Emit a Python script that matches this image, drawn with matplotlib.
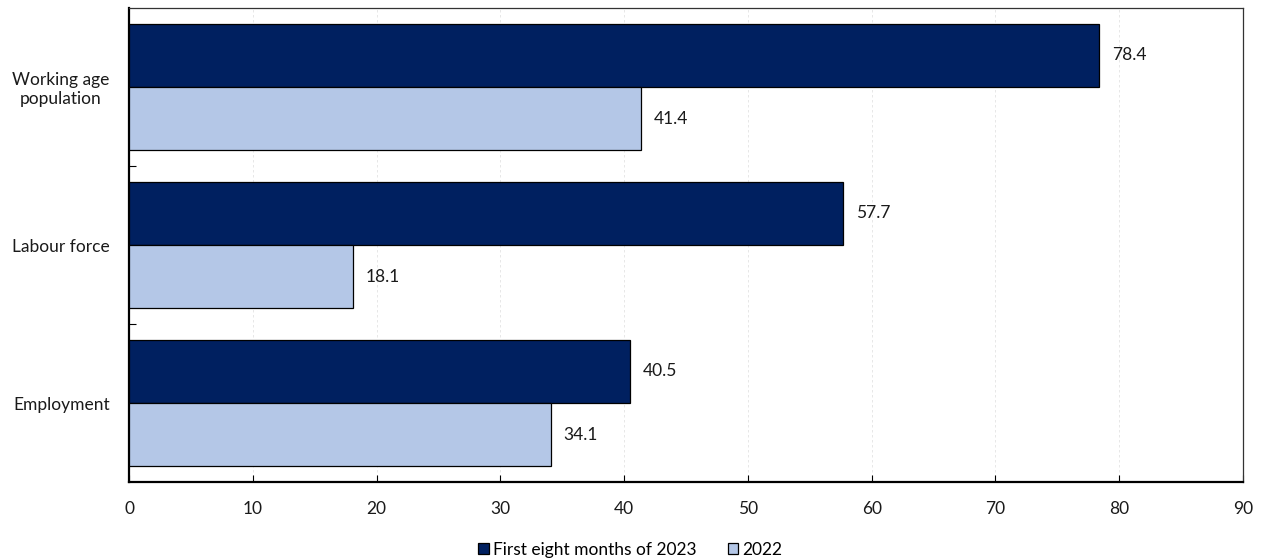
import matplotlib
matplotlib.use("Agg")
import matplotlib.pyplot as plt
import numpy as np
from matplotlib.ticker import MultipleLocator, FixedLocator

plt.rcParams['font.family'] = ['Lato', 'DejaVu Sans']

categories = ["Working age\npopulation", "Labour force", "Employment"]
series_names = ["First eight months of 2023", "2022"]
vals_2023 = [78.4, 57.7, 40.5]
vals_2022 = [41.4, 18.1, 34.1]
colors = ["#002060", "#B4C7E7"]

fig = plt.figure(figsize=(12.61, 5.59), dpi=100)
ax = fig.add_axes([0.1023, 0.1377, 0.8834, 0.848])

y = np.arange(len(categories))
h = 0.4
b1 = ax.barh(y - h/2, vals_2023, height=h, color=colors[0], edgecolor='black', linewidth=0.9, label=series_names[0], zorder=3)
b2 = ax.barh(y + h/2, vals_2022, height=h, color=colors[1], edgecolor='black', linewidth=0.9, label=series_names[1], zorder=3)

for bars, vals in ((b1, vals_2023), (b2, vals_2022)):
    for bar, v in zip(bars, vals):
        ax.text(v + 1.0, bar.get_y() + bar.get_height()/2, f"{v:.1f}", va='center', ha='left', fontsize=12.5, color='#1a1a1a')

ax.set_xlim(0, 90)
ax.set_ylim(2.5, -0.5)
ax.xaxis.set_major_locator(MultipleLocator(10))
ax.grid(axis='x', color='#e3e3e3', linestyle=(0, (3, 3)), linewidth=0.6, zorder=0)
ax.set_yticks(y)
ax.set_yticklabels(categories, fontsize=12.5, multialignment='center', color='#1a1a1a')
ax.yaxis.set_minor_locator(FixedLocator([0.5, 1.5]))
ax.tick_params(axis='y', which='major', length=0, pad=14)
ax.tick_params(axis='y', which='minor', direction='in', length=5, width=0.8)
ax.tick_params(axis='x', direction='in', length=5, width=0.8, labelsize=12.5, pad=14, labelcolor='#1a1a1a')

for s in ['top', 'right']:
    ax.spines[s].set_linewidth(0.9)
    ax.spines[s].set_color('#333333')
for s in ['left', 'bottom']:
    ax.spines[s].set_linewidth(1.6)
    ax.spines[s].set_color('black')

fig.legend(handles=[b1, b2], labels=series_names, loc='lower center', bbox_to_anchor=(0.5, -0.026), ncol=2,
           frameon=False, fontsize=12.5, handlelength=0.6, handleheight=0.6, handletextpad=0.25, columnspacing=1.8)

fig.savefig("out.png", dpi=100)
